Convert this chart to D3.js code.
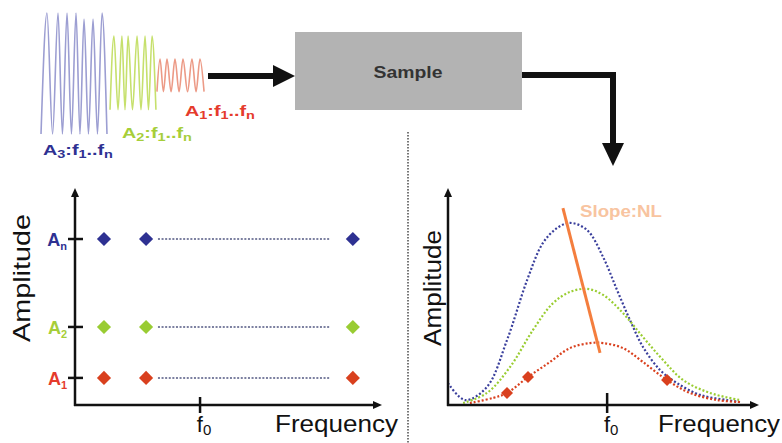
<!DOCTYPE html>
<html><head><meta charset="utf-8">
<script src="https://cdn.jsdelivr.net/npm/d3@7"></script>
<style>body{margin:0;background:#fff}svg{display:block}text{font-family:"Liberation Sans",Arial,sans-serif}</style>
</head><body>
<svg id="c" width="782" height="443"></svg>
<script>
// ---------- data ----------
// input waveforms: turning points [time, relative amplitude]
const waveA3 = [[0.6,-1],[4.1,1],[7.4,-1],[10.6,1],[13.2,-1],[15.9,1],[18.5,-1],[21.2,1],[23.5,-1],[25.9,0.9],[28.5,-1],[31.2,0.9],[33.8,-1],[36.5,1],[39.4,-1]];
const waveA2 = [[41.2,-0.6],[43.5,0.62],[45.9,-0.6],[48.2,0.62],[50,-0.6],[51.8,0.62],[54.4,-0.6],[57.1,0.62],[59.4,-0.6],[61.8,0.62],[63.8,-0.6],[65.9,0.62],[68.2,-0.6]];
const waveA1 = [[68.8,-0.3],[70.6,0.24],[72.6,-0.3],[74.7,0.24],[77.1,-0.3],[79.4,0.24],[81.8,-0.3],[84.1,0.24],[86.8,-0.3],[89.4,0.24],[91.8,-0.3],[94.1,0.24],[96.5,-0.3]];
const waveColors = ["#9c9ed2","#c6e06c","#ec9a86"];

// left chart: amplitude levels and sampled frequencies
const levelNames = ["n","2","1"];
const levelValues = [77.2, 36.3, 12.6];
const levelColors = ["#2e3192","#99cc33","#d9401e"];
const labelColors = ["#2e3192","#a6ce39","#e53b2c"];
const sampleFreqs = [9.5, 23.3, 91.1];
const dottedSpan = [27.2, 83.6];
const f0Left = 41;

// right chart: response curves
const curveBlue = [[0,10.2],[5.5,2.3],[12.6,8.4],[19.1,30.2],[25.6,58.1],[30.7,75.3],[35.3,82.3],[39.5,84.7],[45,81.4],[50.2,68.8],[54.7,53.5],[58.9,39.5],[63.1,27],[68.6,16.3],[74.1,10.2],[81.6,4.7],[90.3,2.3],[94.5,1.4]];
const curveGreen = [[4.9,0.9],[12.6,5.6],[20.1,17.7],[27.5,34.9],[34,47.4],[39.5,52.6],[45,54],[50.2,51.2],[56.6,42.8],[63.1,31.6],[69.6,20.9],[76.1,11.6],[84.8,5.6],[94.5,2.3]];
const curveRed = [[7.1,0.9],[14.6,3.3],[19.1,5.6],[25.9,13],[33,20],[39.5,26.5],[46,28.8],[50.2,28.8],[56.6,26.5],[63.1,20],[70.9,11.6],[78.3,5.6],[87.1,2.3],[94.5,1.4]];
const curveColors = ["#3a3f9c","#9acd32","#d9401e"];
const redSamples = [[19.1,5.6],[25.9,13],[70.9,11.6]];
const slopeLine = [[37.2,91.6],[49.2,24.2]];
const f0Right = 51.5;

// ---------- drawing ----------
const svg = d3.select("#c");

function arrowHead(g, tip, dir, len, half) {
  const [x,y] = tip;
  let pts;
  if (dir==="right") pts=[[x,y],[x-len,y-half],[x-len,y+half]];
  else if (dir==="down") pts=[[x,y],[x-half,y-len],[x+half,y-len]];
  else pts=[[x,y],[x-half,y+len],[x+half,y+len]];
  g.append("path").attr("d","M"+pts.map(p=>p.join(",")).join("L")+"Z").attr("fill","#111");
}

// waves
const wx = d3.scaleLinear().domain([0,100]).range([40,210]);
const wy = d3.scaleLinear().domain([-1,1]).range([134,13]);
const wline = d3.line().x(d=>wx(d[0])).y(d=>wy(d[1])).curve(d3.curveMonotoneX);
[waveA3,waveA2,waveA1].forEach((w,i)=>{
  svg.append("path").attr("d",wline(w)).attr("fill","none").attr("stroke",waveColors[i]).attr("stroke-width",1.6);
});

function waveLabel(x,y,lvl,color){
  const t = svg.append("text").attr("x",x).attr("y",y).attr("fill",color).attr("font-weight","bold").attr("font-size",15)
    .attr("textLength",70).attr("lengthAdjust","spacingAndGlyphs");
  t.append("tspan").text("A");
  t.append("tspan").text(lvl).attr("font-size",11).attr("dy",3);
  t.append("tspan").text(":f").attr("dy",-3);
  t.append("tspan").text("1").attr("font-size",11).attr("dy",3);
  t.append("tspan").text("..f").attr("dy",-3);
  t.append("tspan").text("n").attr("font-size",11).attr("dy",3);
}
waveLabel(43,155,"3","#2e3192");
waveLabel(122,138,"2","#a6ce39");
waveLabel(185,116,"1","#e53b2c");

// arrow waves -> sample
svg.append("line").attr("x1",208).attr("y1",76).attr("x2",275).attr("y2",76).attr("stroke","#111").attr("stroke-width",6);
arrowHead(svg,[295,76],"right",22,11);

// sample box
svg.append("rect").attr("x",295).attr("y",32).attr("width",227).attr("height",78).attr("fill","#b3b3b3");
svg.append("text").attr("x",408).attr("y",78).attr("text-anchor","middle").attr("font-weight","bold").attr("font-size",17)
  .attr("fill","#333").attr("textLength",69).attr("lengthAdjust","spacingAndGlyphs").text("Sample");

// arrow sample -> response
svg.append("path").attr("d","M522,75H613V145").attr("fill","none").attr("stroke","#111").attr("stroke-width",6);
arrowHead(svg,[613,166],"down",23,11);

// separator
svg.append("line").attr("x1",408).attr("y1",132).attr("x2",408).attr("y2",443).attr("stroke","#777").attr("stroke-width",2).attr("stroke-dasharray","1.5,1.5");

// ---- left chart ----
const lx = d3.scaleLinear().domain([0,100]).range([75,380]);
const ly = d3.scaleLinear().domain([0,100]).range([405,190]);
const L = svg.append("g");
L.append("line").attr("x1",lx(0)).attr("y1",ly(0)+1).attr("x2",lx(0)).attr("y2",ly(100)+6).attr("stroke","#111").attr("stroke-width",2.5);
arrowHead(L,[lx(0),ly(100)-2],"up",9,4);
L.append("line").attr("x1",lx(0)-1).attr("y1",ly(0)).attr("x2",lx(100)-6).attr("y2",ly(0)).attr("stroke","#111").attr("stroke-width",2.5);
arrowHead(L,[lx(100)+2,ly(0)],"right",9,4);
L.append("line").attr("x1",lx(f0Left)).attr("x2",lx(f0Left)).attr("y1",ly(0)-8).attr("y2",ly(0)+8).attr("stroke","#111").attr("stroke-width",2.5);
levelValues.forEach((v,i)=>{
  const y = ly(v);
  L.append("line").attr("x1",lx(0)-7).attr("x2",lx(0)+8).attr("y1",y).attr("y2",y).attr("stroke","#111").attr("stroke-width",2.5);
  L.append("line").attr("x1",lx(dottedSpan[0])).attr("x2",lx(dottedSpan[1])).attr("y1",y).attr("y2",y)
    .attr("stroke","#7c80a0").attr("stroke-width",2).attr("stroke-dasharray","2,1.6");
  sampleFreqs.forEach(f=>{
    L.append("path").attr("d",d3.symbol(d3.symbolSquare,100)()).attr("transform",`translate(${lx(f)},${y}) rotate(45)`).attr("fill",levelColors[i]);
  });
  const t = L.append("text").attr("x",67).attr("y",y+7).attr("text-anchor","end").attr("font-weight","bold").attr("font-size",18)
    .attr("fill", labelColors[i]);
  t.append("tspan").text("A");
  t.append("tspan").text(levelNames[i]).attr("font-size",11).attr("dy",4);
});
function f0Label(g,x){
  const t = g.append("text").attr("x",x).attr("y",432).attr("font-size",22).attr("fill","#111").attr("text-anchor","middle");
  t.append("tspan").text("f");
  t.append("tspan").text("0").attr("font-size",15).attr("dy",3);
}
f0Label(L,lx(f0Left)+4);
L.append("text").attr("x",275).attr("y",432).attr("font-size",24).attr("fill","#111").attr("textLength",123).attr("lengthAdjust","spacingAndGlyphs").text("Frequency");
L.append("text").attr("transform","translate(30,278) rotate(-90)").attr("text-anchor","middle").attr("font-size",24).attr("fill","#111")
  .attr("textLength",128).attr("lengthAdjust","spacingAndGlyphs").text("Amplitude");

// ---- right chart ----
const rx = d3.scaleLinear().domain([0,100]).range([448,757]);
const ry = d3.scaleLinear().domain([0,100]).range([405,190]);
const R = svg.append("g");
const cline = d3.line().x(d=>rx(d[0])).y(d=>ry(d[1])).curve(d3.curveCatmullRom.alpha(0.5));
[curveBlue,curveGreen,curveRed].forEach((c,i)=>{
  R.append("path").attr("d",cline(c)).attr("fill","none").attr("stroke",curveColors[i]).attr("stroke-width",2.2).attr("stroke-dasharray","2,2");
});
R.append("line").attr("x1",rx(0)).attr("y1",ry(0)+1).attr("x2",rx(0)).attr("y2",ry(100)+6).attr("stroke","#111").attr("stroke-width",2.5);
arrowHead(R,[rx(0),ry(100)-2],"up",9,4);
R.append("line").attr("x1",rx(0)-1).attr("y1",ry(0)).attr("x2",rx(100)-6).attr("y2",ry(0)).attr("stroke","#111").attr("stroke-width",2.5);
arrowHead(R,[rx(100)+2,ry(0)],"right",9,4);
R.append("line").attr("x1",rx(f0Right)).attr("x2",rx(f0Right)).attr("y1",ry(0)-12).attr("y2",ry(0)+8).attr("stroke","#111").attr("stroke-width",2.5);
redSamples.forEach(d=>{
  R.append("path").attr("d",d3.symbol(d3.symbolSquare,72)()).attr("transform",`translate(${rx(d[0])},${ry(d[1])}) rotate(45)`).attr("fill","#d9401e");
});
R.append("line").attr("x1",rx(slopeLine[0][0])).attr("y1",ry(slopeLine[0][1])).attr("x2",rx(slopeLine[1][0])).attr("y2",ry(slopeLine[1][1]))
  .attr("stroke","#f47e3e").attr("stroke-width",3);
R.append("text").attr("x",580).attr("y",217).attr("font-size",16).attr("font-weight","bold").attr("fill","#f8c4a0")
  .attr("textLength",82).attr("lengthAdjust","spacingAndGlyphs").text("Slope:NL");
f0Label(R,rx(f0Right)+4);
R.append("text").attr("x",658).attr("y",432).attr("font-size",24).attr("fill","#111").attr("textLength",122).attr("lengthAdjust","spacingAndGlyphs").text("Frequency");
R.append("text").attr("transform","translate(441,288) rotate(-90)").attr("text-anchor","middle").attr("font-size",23).attr("fill","#111")
  .attr("textLength",116).attr("lengthAdjust","spacingAndGlyphs").text("Amplitude");
</script>
</body></html>
